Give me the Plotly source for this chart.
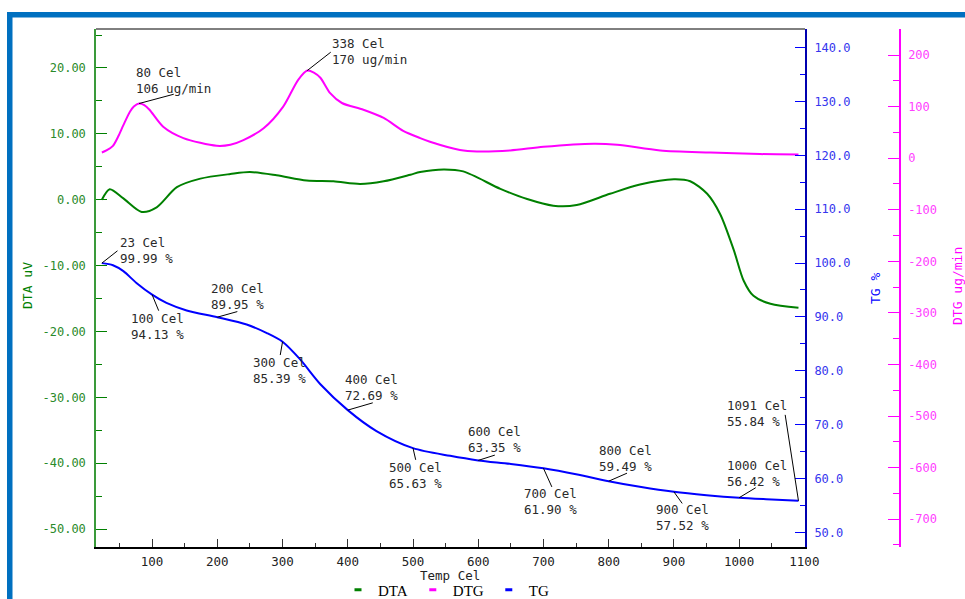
import plotly.graph_objects as go

# ---------------- data ----------------
temp_dta = [23, 35, 56, 84, 107, 138, 174, 220, 250, 291, 337, 378, 419, 455, 496, 511,
            547, 577, 634, 675, 715, 751, 802, 848, 900, 925, 951, 971, 992, 1007, 1022, 1048, 1091]
dta = [0.0, 1.6, 0.2, -1.85, -1.15, 1.9, 3.2, 3.9, 4.2, 3.7, 2.9, 2.8, 2.4, 2.8, 3.8, 4.2,
       4.6, 4.3, 1.65, 0.1, -0.9, -0.8, 0.9, 2.3, 3.1, 2.8, 0.9, -2.2, -7.7, -12.3, -14.6, -15.8, -16.4]

temp_dtg = [23, 30, 40, 48, 56, 66, 72, 80, 88, 96, 117, 148, 199, 220, 240, 271, 301, 324, 338,
            348, 358, 373, 391, 424, 455, 485, 511, 526, 572, 598, 649, 700, 777, 813, 879, 956, 1032, 1091]
dtg = [11, 15, 24, 42, 64, 90, 100, 106, 103, 94, 61, 39, 24, 26, 35, 58, 100, 152, 170,
       166, 156, 126, 107, 94, 78, 53, 39, 32, 16, 13, 15, 22, 28, 26, 15, 11, 8, 7]

temp_tg = [23, 40, 56, 76, 100, 122, 153, 200, 245, 276, 300, 327, 358, 400, 444, 500,
           557, 600, 650, 700, 750, 800, 850, 900, 950, 1000, 1050, 1091]
tg = [99.99, 99.6, 98.5, 96.3, 94.13, 92.6, 91.2, 89.95, 88.6, 87.0, 85.39, 82.1, 77.5, 72.69, 68.8, 65.63,
      64.2, 63.35, 62.7, 61.90, 60.8, 59.49, 58.4, 57.52, 56.9, 56.42, 56.1, 55.84]

# annotated points
dtg_peak_t = [80, 338]
dtg_peak_v = [106, 170]
tg_mark_t = [23, 100, 200, 300, 400, 500, 600, 700, 800, 900, 1000, 1091]
tg_mark_v = [99.99, 94.13, 89.95, 85.39, 72.69, 65.63, 63.35, 61.90, 59.49, 57.52, 56.42, 55.84]

# tick labels
x_ticks = [100, 200, 300, 400, 500, 600, 700, 800, 900, 1000, 1100]
dta_ticks = [20, 10, 0, -10, -20, -30, -40, -50]
dta_labels = ["20.00", "10.00", "0.00", "-10.00", "-20.00", "-30.00", "-40.00", "-50.00"]
tg_ticks = [140, 130, 120, 110, 100, 90, 80, 70, 60, 50]
tg_labels = ["140.0", "130.0", "120.0", "110.0", "100.0", "90.0", "80.0", "70.0", "60.0", "50.0"]
dtg_ticks = [200, 100, 0, -100, -200, -300, -400, -500, -600, -700]
dtg_labels = ["200", "100", "0", "-100", "-200", "-300", "-400", "-500", "-600", "-700"]

# ---------------- style ----------------
GREEN = "#008000"
MAG = "#FF00FF"
BLUE = "#0000FF"
FRAME = "#0070C0"
MONO = "DejaVu Sans Mono"
TXT = "#2a2a2a"

W, H = 965, 599
L, R, T, B = 96, 65, 29, 52
PW = W - L - R          # 804
PH = H - T - B          # 518
XDOM = (805 - L) / PW


def px(xp):
    return (xp - L) / PW


def py(yp):
    return (H - B - yp) / PH


fig = go.Figure()

fig.add_trace(go.Scatter(x=temp_dta, y=dta, mode="lines", name="DTA", showlegend=False,
                         line=dict(color=GREEN, width=2, shape="spline", smoothing=0.8),
                         xaxis="x", yaxis="y"))
fig.add_trace(go.Scatter(x=temp_dtg, y=dtg, mode="lines", name="DTG", showlegend=False,
                         line=dict(color=MAG, width=2, shape="spline", smoothing=0.8),
                         xaxis="x", yaxis="y3"))
fig.add_trace(go.Scatter(x=temp_tg, y=tg, mode="lines", name="TG", showlegend=False,
                         line=dict(color=BLUE, width=2, shape="spline", smoothing=0.8),
                         xaxis="x", yaxis="y2"))

# legend entries (short line symbols)
for nm, col in [("DTA", GREEN), ("DTG", MAG), ("TG", BLUE)]:
    fig.add_trace(go.Scatter(x=[None], y=[None], mode="markers", name=nm, showlegend=True,
                             marker=dict(symbol="line-ew", size=5, color=col,
                                         line=dict(color=col, width=3)),
                             xaxis="x", yaxis="y"))

tickfont_common = dict(family=MONO, size=12)

fig.update_layout(
    width=W, height=H,
    margin=dict(l=L, r=R, t=T, b=B, autoexpand=False),
    paper_bgcolor="white", plot_bgcolor="white",
    xaxis=dict(domain=[0, XDOM], range=[14, 1101], tickmode="array", tickvals=x_ticks,
               ticks="inside", ticklen=8, tickwidth=1, tickcolor="#333",
               minor=dict(ticks="inside", ticklen=4, tickmode="linear", tick0=50, dtick=100,
                          tickcolor="#333", tickwidth=1),
               showline=True, linecolor="black", linewidth=2, showgrid=False, zeroline=False,
               tickfont=dict(family=MONO, size=12.5, color="#222"), ticklabelstandoff=2,
               automargin=False),
    yaxis=dict(range=[-52.73, 25.92], tickmode="array", tickvals=dta_ticks, ticktext=dta_labels,
               ticks="inside", ticklen=11, tickwidth=1, tickcolor=GREEN,
               minor=dict(ticks="inside", ticklen=6, tickmode="linear", tick0=5, dtick=10,
                          tickcolor=GREEN, tickwidth=1),
               showline=True, linecolor="#3a9a3a", linewidth=1.5, showgrid=False, zeroline=False,
               tickfont=dict(tickfont_common, color="#2a8a2a"), ticklabelstandoff=6,
               automargin=False),
    yaxis2=dict(range=[47.27, 143.47], overlaying="y", side="right", anchor="x",
                tickmode="array", tickvals=tg_ticks, ticktext=tg_labels,
                ticks="inside", ticklen=10, tickwidth=1, tickcolor=BLUE,
                minor=dict(ticks="inside", ticklen=5, tickmode="linear", tick0=45, dtick=10,
                           tickcolor=BLUE, tickwidth=1),
                showline=True, linecolor="#0000b0", linewidth=2, showgrid=False, zeroline=False,
                tickfont=dict(tickfont_common, color="#3535ee"), ticklabelstandoff=5,
                automargin=False),
    yaxis3=dict(range=[-754, 250.5], overlaying="y", side="right", anchor="free", position=1.0,
                tickmode="array", tickvals=dtg_ticks, ticktext=dtg_labels,
                ticks="inside", ticklen=11, tickwidth=1, tickcolor=MAG,
                minor=dict(ticks="inside", ticklen=6, tickmode="linear", tick0=50, dtick=100,
                           tickcolor=MAG, tickwidth=1),
                showline=True, linecolor=MAG, linewidth=1.5, showgrid=False, zeroline=False,
                tickfont=dict(tickfont_common, color="#ff40ff"), ticklabelstandoff=5,
                automargin=False),
    legend=dict(orientation="h", x=px(446), xanchor="center", y=py(590), yanchor="middle",
                font=dict(family="Liberation Serif", size=15, color="black"),
                bgcolor="rgba(0,0,0,0)", itemwidth=30, tracegroupgap=0,
                borderwidth=0),
    showlegend=True,
)

shapes = []
# blue frame
shapes.append(dict(type="rect", xref="paper", yref="paper", x0=px(7), x1=px(965),
                   y0=py(17.5), y1=py(12), fillcolor=FRAME, line=dict(width=0)))
shapes.append(dict(type="rect", xref="paper", yref="paper", x0=px(7), x1=px(12.5),
                   y0=py(599), y1=py(12), fillcolor=FRAME, line=dict(width=0)))
# top border of plot
shapes.append(dict(type="line", xref="paper", yref="paper", x0=0, x1=XDOM, y0=1, y1=1,
                   line=dict(color="black", width=1)))

annotations = []

# DTG peak labels: (text x-shift, text y-shift, leader dx, leader dy) in pixels
dtg_offsets = [(-4, 23.5, 34.7, 9.3), (23.4, 19.5, 23.4, 18.3)]
for t, v, (xs, ys, dx, dy) in zip(dtg_peak_t, dtg_peak_v, dtg_offsets):
    annotations.append(dict(x=t, y=v, xref="x", yref="y3", showarrow=False,
                            text=f"{t} Cel<br>{v} ug/min", xanchor="left", yanchor="middle",
                            align="left", xshift=xs, yshift=ys, borderpad=0,
                            font=dict(family=MONO, size=12.5, color=TXT)))
    shapes.append(dict(type="line", xref="x", yref="y3", xsizemode="pixel", ysizemode="pixel",
                       xanchor=t, yanchor=v, x0=0, x1=dx, y0=0, y1=dy,
                       line=dict(color="black", width=1)))

tg_offsets = [
    (17.6, 13.1, 15.6, 12.3),
    (-21.7, -31.8, 6.6, -16),
    (-7.6, 21.1, 20, 5.6),
    (-31, -28.8, -2.3, -13.3),
    (-3.3, 22.5, 25, 7.3),
    (-25.3, -27.2, 2.7, -11.7),
    (-11.7, 21, 16.6, 5.3),
    (-20, -33.4, 8.4, -18.7),
    (-10.7, 22.5, 18.3, 8),
    (-19, -25.8, 8.3, -11.6),
    (-13.4, 24.2, 16.6, 10),
    (-72.3, 87.1, -13.3, 86),
]
for t, v, (xs, ys, dx, dy) in zip(tg_mark_t, tg_mark_v, tg_offsets):
    annotations.append(dict(x=t, y=v, xref="x", yref="y2", showarrow=False,
                            text=f"{t} Cel<br>{v:.2f} %", xanchor="left", yanchor="middle",
                            align="left", xshift=xs, yshift=ys, borderpad=0,
                            font=dict(family=MONO, size=12.5, color=TXT)))
    shapes.append(dict(type="line", xref="x", yref="y2", xsizemode="pixel", ysizemode="pixel",
                       xanchor=t, yanchor=v, x0=0, x1=dx, y0=0, y1=dy,
                       line=dict(color="black", width=1)))

# axis titles
annotations.append(dict(x=px(27), y=py(286), xref="paper", yref="paper", text="DTA uV",
                        textangle=-90, showarrow=False, xanchor="center", yanchor="middle",
                        font=dict(family=MONO, size=13, color=GREEN)))
annotations.append(dict(x=px(875), y=py(289), xref="paper", yref="paper", text="TG %",
                        textangle=-90, showarrow=False, xanchor="center", yanchor="middle",
                        font=dict(family=MONO, size=13, color=BLUE)))
annotations.append(dict(x=px(957), y=py(286), xref="paper", yref="paper", text="DTG ug/min",
                        textangle=-90, showarrow=False, xanchor="center", yanchor="middle",
                        font=dict(family=MONO, size=13, color=MAG)))
annotations.append(dict(x=px(450), y=py(575), xref="paper", yref="paper", text="Temp Cel",
                        showarrow=False, xanchor="center", yanchor="middle",
                        font=dict(family=MONO, size=12.5, color="#222")))

fig.update_layout(shapes=shapes, annotations=annotations)

fig.write_html("out.html")
